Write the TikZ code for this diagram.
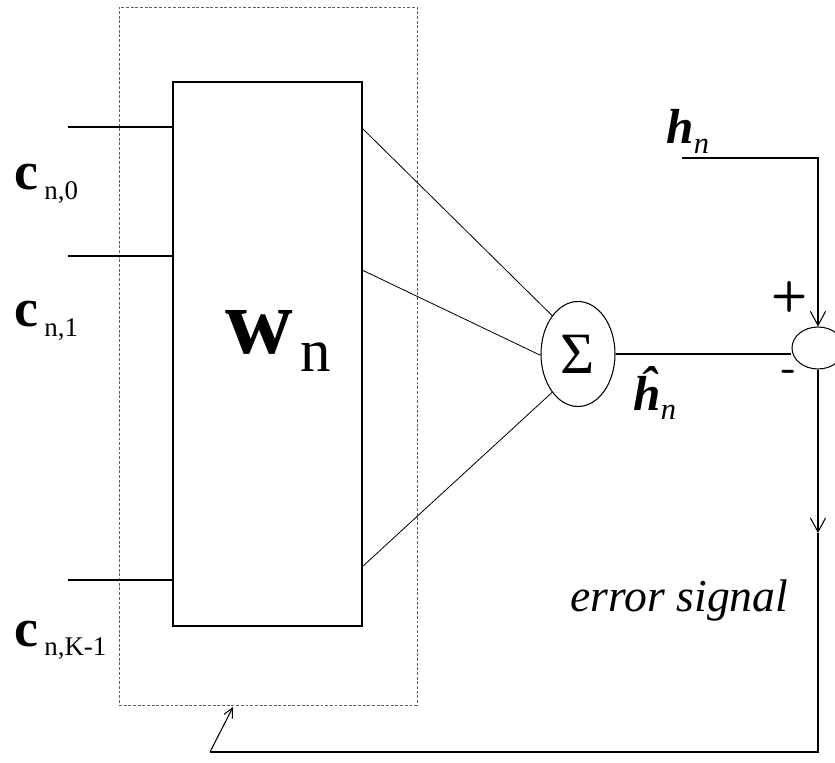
\documentclass[tikz,border=0pt]{standalone}
\usepackage{fontspec}
\setmainfont{Liberation Serif}
\usepackage{xcolor}
\definecolor{dgray}{RGB}{95,95,95}
\usetikzlibrary{arrows.meta,shapes,positioning,calc}
\newcommand{\fsz}[1]{\fontsize{#1}{#1}\selectfont}

\begin{document}
\begin{tikzpicture}[
  x=0.03cm, y=-0.03cm,
  line width=0.9pt,
  wbox/.style={rectangle,draw,minimum width=5.67cm,minimum height=16.32cm,inner sep=0pt},
  adapt/.style={rectangle,draw=dgray,dash pattern=on 2.5pt off 1.5pt,line width=0.6pt,minimum width=8.94cm,minimum height=20.94cm,inner sep=0pt},
  sumnode/.style={ellipse,draw,minimum width=2.22cm,minimum height=3.15cm,inner sep=0pt,font=\fsz{50}},
  errnode/.style={ellipse,draw,minimum width=1.56cm,minimum height=1.26cm,inner sep=0pt},
  lbl/.style={inner sep=0pt,anchor=base west},
  >={Straight Barb[length=12pt,width=13pt]}
]
  \useasboundingbox (0,0) rectangle (835,763);

  % filter and its adaptation frame
  \node[adapt] (adapt) at (268,356) {};
  \node[wbox] (w) at (267.5,354) {};
  \node[lbl] (wlab) at (225,353) {\fsz{80}\textbf{w}\hspace{6pt}\raisebox{-16pt}{\fsz{52}n}};

  % inputs
  \coordinate (c0) at (68,127);
  \coordinate (c1) at (68,256);
  \coordinate (cK) at (68,580);
  \node[lbl] (lc0) at (14,190) {\fsz{46}\textbf{c}\hspace{5pt}\raisebox{-8.5pt}{\fsz{23}n,0}};
  \node[lbl] (lc1) at (14,327) {\fsz{46}\textbf{c}\hspace{5pt}\raisebox{-8.5pt}{\fsz{23}n,1}};
  \node[lbl] (lcK) at (14,646) {\fsz{46}\textbf{c}\hspace{5pt}\raisebox{-8.5pt}{\fsz{23}n,K-1}};
  \draw (c0) -- (c0 -| w.west);
  \draw (c1) -- (c1 -| w.west);
  \draw (cK) -- (cK -| w.west);

  % summation and error
  \node[sumnode] (sum) at (578,354) {Σ};
  \node[errnode] (err) at (818,348) {};
  \coordinate (o0) at (362,128);
  \coordinate (o1) at (362,270);
  \coordinate (oK) at (362,567);
  \draw[line width=0.7pt] (o0) -- (sum.124);
  \draw[line width=0.7pt] (o1) -- (sum.182);
  \draw[line width=0.7pt] (oK) -- (sum.236);
  \draw (sum.east) -- (sum.east -| err.west);

  \coordinate (hin) at (682,158);
  \node[lbl] (hlab) at (666,144) {\fsz{42}\textbf{\textit{h}}\raisebox{-8pt}{\fsz{26}\textit{n}}};
  \node[lbl] (hhat) at (633,410) {\fsz{42}{\bfseries\itshape \^h}\raisebox{-8pt}{\fsz{26}\textit{n}}};
  \node[font=\fsz{36}\sffamily\bfseries] (plus) at (790,297) {+};
  \node[font=\fsz{36}\sffamily\bfseries] (minus) at (789,376) {-};
  \draw[->] (hin) -- (hin -| err) -- (err.north);

  % error signal fed back to the filter
  \coordinate (mid) at (818,533);
  \coordinate (br) at (818,752);
  \coordinate (bl) at (210,752);
  \coordinate (tip) at (233,707);
  \draw[->] (err.south) -- (mid);
  \draw (mid) -- (br) -- (bl);
  \draw[->,>={Straight Barb[length=8pt,width=8pt]}] (bl) -- (tip);
  \node[lbl,font=\fsz{39}\itshape] (elab) at (570,611) {error signal};
\end{tikzpicture}
\end{document}
